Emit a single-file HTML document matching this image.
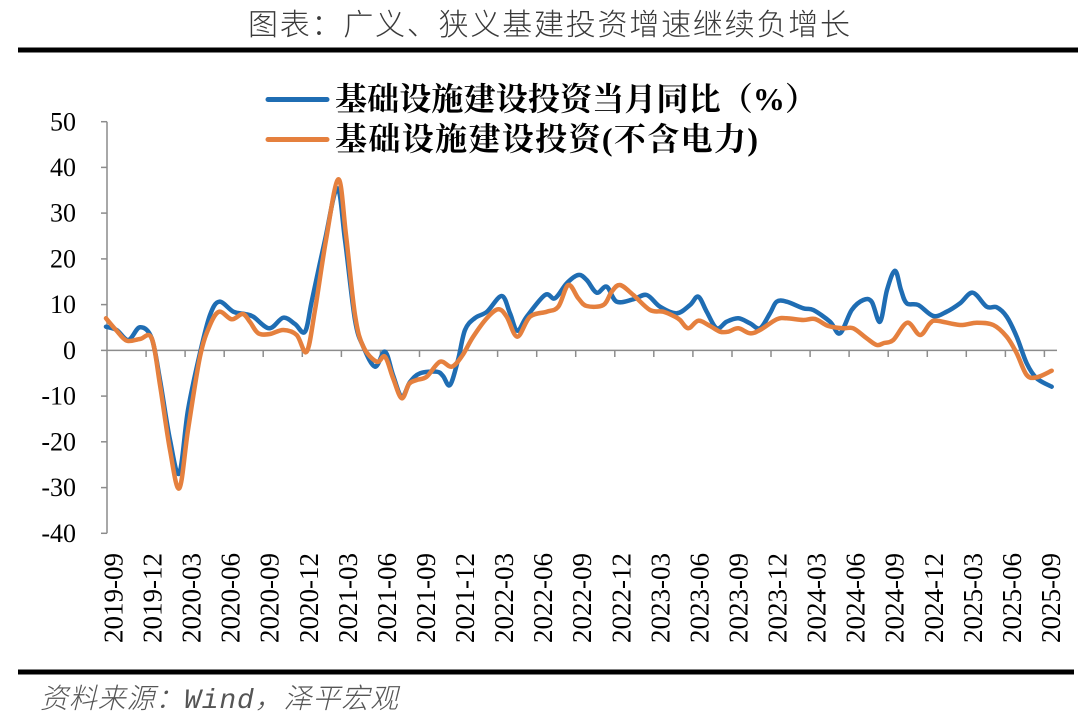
<!DOCTYPE html>
<html>
<head>
<meta charset="utf-8">
<style>
  html,body{margin:0;padding:0;background:#fff;}
  body{width:1080px;height:722px;overflow:hidden;}
  svg{display:block;}
</style>
</head>
<body>
<svg width="1080" height="722" viewBox="0 0 1080 722" xmlns="http://www.w3.org/2000/svg">
  <rect width="1080" height="722" fill="#fff"/>

  <!-- Title -->
  <text x="248" y="35" font-family="'Liberation Sans','Noto Sans CJK SC',sans-serif" font-weight="300" font-size="30" fill="#3a3a3a" textLength="602" lengthAdjust="spacing">图表：广义、狭义基建投资增速继续负增长</text>
  <rect x="18" y="47.5" width="1060" height="5" fill="#000"/>

  <!-- Legend -->
  <line x1="268" y1="99.5" x2="327" y2="99.5" stroke="#1f6db3" stroke-width="5" stroke-linecap="round"/>
  <text x="335" y="110" font-family="'Liberation Serif','Noto Serif CJK SC',serif" font-weight="700" font-size="32" fill="#000" textLength="482" lengthAdjust="spacing">基础设施建设投资当月同比（%）</text>
  <line x1="268" y1="139.5" x2="327" y2="139.5" stroke="#e5803e" stroke-width="5" stroke-linecap="round"/>
  <text x="335" y="150" font-family="'Liberation Serif','Noto Serif CJK SC',serif" font-weight="700" font-size="32" fill="#000" textLength="423" lengthAdjust="spacing">基础设施建设投资(不含电力)</text>

  <!-- Y axis -->
  <g stroke="#8c8c8c" stroke-width="1.5" fill="none">
    <line x1="107" y1="121.7" x2="107" y2="533.3"/>
    <line x1="101" y1="121.7" x2="107" y2="121.7"/>
    <line x1="101" y1="167.4" x2="107" y2="167.4"/>
    <line x1="101" y1="213.1" x2="107" y2="213.1"/>
    <line x1="101" y1="258.9" x2="107" y2="258.9"/>
    <line x1="101" y1="304.6" x2="107" y2="304.6"/>
    <line x1="101" y1="350.4" x2="107" y2="350.4"/>
    <line x1="101" y1="396.1" x2="107" y2="396.1"/>
    <line x1="101" y1="441.8" x2="107" y2="441.8"/>
    <line x1="101" y1="487.6" x2="107" y2="487.6"/>
    <line x1="101" y1="533.3" x2="107" y2="533.3"/>
  </g>
  <g font-family="'Liberation Serif',serif" font-size="26" fill="#000" text-anchor="end">
    <text x="76" y="130.3">50</text>
    <text x="76" y="176">40</text>
    <text x="76" y="221.7">30</text>
    <text x="76" y="267.5">20</text>
    <text x="76" y="313.2">10</text>
    <text x="76" y="359">0</text>
    <text x="76" y="404.7">-10</text>
    <text x="76" y="450.4">-20</text>
    <text x="76" y="496.2">-30</text>
    <text x="76" y="541.9">-40</text>
  </g>

  <!-- X axis -->
  <g stroke="#8c8c8c" stroke-width="1.5" fill="none">
    <line x1="107" y1="350.4" x2="1057" y2="350.4"/>
    <line x1="146.1" y1="350.4" x2="146.1" y2="357"/>
    <line x1="185.1" y1="350.4" x2="185.1" y2="357"/>
    <line x1="224.2" y1="350.4" x2="224.2" y2="357"/>
    <line x1="263.2" y1="350.4" x2="263.2" y2="357"/>
    <line x1="302.3" y1="350.4" x2="302.3" y2="357"/>
    <line x1="341.4" y1="350.4" x2="341.4" y2="357"/>
    <line x1="380.4" y1="350.4" x2="380.4" y2="357"/>
    <line x1="419.5" y1="350.4" x2="419.5" y2="357"/>
    <line x1="458.5" y1="350.4" x2="458.5" y2="357"/>
    <line x1="497.6" y1="350.4" x2="497.6" y2="357"/>
    <line x1="536.7" y1="350.4" x2="536.7" y2="357"/>
    <line x1="575.7" y1="350.4" x2="575.7" y2="357"/>
    <line x1="614.8" y1="350.4" x2="614.8" y2="357"/>
    <line x1="653.8" y1="350.4" x2="653.8" y2="357"/>
    <line x1="692.9" y1="350.4" x2="692.9" y2="357"/>
    <line x1="732.0" y1="350.4" x2="732.0" y2="357"/>
    <line x1="771.0" y1="350.4" x2="771.0" y2="357"/>
    <line x1="810.1" y1="350.4" x2="810.1" y2="357"/>
    <line x1="849.1" y1="350.4" x2="849.1" y2="357"/>
    <line x1="888.2" y1="350.4" x2="888.2" y2="357"/>
    <line x1="927.3" y1="350.4" x2="927.3" y2="357"/>
    <line x1="966.3" y1="350.4" x2="966.3" y2="357"/>
    <line x1="1005.4" y1="350.4" x2="1005.4" y2="357"/>
    <line x1="1044.4" y1="350.4" x2="1044.4" y2="357"/>
  </g>
  <g font-family="'Liberation Serif',serif" font-size="27" fill="#000" text-anchor="end" dominant-baseline="central">
    <text transform="translate(113.5,553) rotate(-90)">2019-09</text>
    <text transform="translate(152.6,553) rotate(-90)">2019-12</text>
    <text transform="translate(191.6,553) rotate(-90)">2020-03</text>
    <text transform="translate(230.7,553) rotate(-90)">2020-06</text>
    <text transform="translate(269.7,553) rotate(-90)">2020-09</text>
    <text transform="translate(308.8,553) rotate(-90)">2020-12</text>
    <text transform="translate(347.9,553) rotate(-90)">2021-03</text>
    <text transform="translate(386.9,553) rotate(-90)">2021-06</text>
    <text transform="translate(426.0,553) rotate(-90)">2021-09</text>
    <text transform="translate(465.0,553) rotate(-90)">2021-12</text>
    <text transform="translate(504.1,553) rotate(-90)">2022-03</text>
    <text transform="translate(543.2,553) rotate(-90)">2022-06</text>
    <text transform="translate(582.2,553) rotate(-90)">2022-09</text>
    <text transform="translate(621.3,553) rotate(-90)">2022-12</text>
    <text transform="translate(660.3,553) rotate(-90)">2023-03</text>
    <text transform="translate(699.4,553) rotate(-90)">2023-06</text>
    <text transform="translate(738.5,553) rotate(-90)">2023-09</text>
    <text transform="translate(777.5,553) rotate(-90)">2023-12</text>
    <text transform="translate(816.6,553) rotate(-90)">2024-03</text>
    <text transform="translate(855.6,553) rotate(-90)">2024-06</text>
    <text transform="translate(894.7,553) rotate(-90)">2024-09</text>
    <text transform="translate(933.8,553) rotate(-90)">2024-12</text>
    <text transform="translate(972.8,553) rotate(-90)">2025-03</text>
    <text transform="translate(1011.9,553) rotate(-90)">2025-06</text>
    <text transform="translate(1050.9,553) rotate(-90)">2025-09</text>
  </g>

  <!-- Series -->
  <polyline class="s" fill="none" stroke="#1f6db3" stroke-width="4.5" stroke-linejoin="round" stroke-linecap="round"
    points="106,326.7 116.7,330 128.3,340 140,327.3 151.7,338.3 160,380 170,440 179.3,473.3 188,410 200,353 210,315 219.3,301.7 233.3,311.7 245,314 253.3,316.7 269.3,328.3 283.3,317.7 295,324 305,331.7 312,300 325,240 337.3,188.3 345,240 355,320 363.3,346.7 375,366.7 385,351.7 393,375 401.7,396.7 410,382 420,373.3 436.7,371.7 443,376 450,385 458,360 465,330 475,318 487,311.7 501.7,296 510,313.3 517.3,330.7 526.7,316.7 545,295 555,298.3 566.7,283.3 578.3,275 586.7,280 596.7,292.7 606.7,286.7 616.7,301.7 633.3,299.3 646.7,295 660,306.7 676.7,313.3 690,305 698.3,296.7 706.7,311.7 716.7,328.3 726.7,321.7 738.3,318.3 750,323.3 760,328.3 770,313.3 776.7,301.7 786.7,301.7 803.3,308.3 813.3,310 830,321.7 840,333.3 851.7,310 863.3,300 871.7,301.7 880,321.7 887,290 895,270.7 901,290 906.7,303.3 918.3,305 933.3,316 946.7,311.7 960,303.3 972.7,292.7 986.7,306.7 996.7,307.3 1006.7,316.7 1016.7,336.7 1026.7,363.3 1036.7,378.3 1051.7,386.7"/>
  <polyline class="s" fill="none" stroke="#e5803e" stroke-width="4.5" stroke-linejoin="round" stroke-linecap="round"
    points="106,318.3 116,330 126.7,340.7 140,339 151.7,338.3 160,385 170,450 179.3,488.3 188,430 200,356.7 210,325 219.3,311.7 231.7,319.3 242.7,314 250,322 258.3,333.3 270,334 283.3,330 296.7,335 306.7,351.7 315,310 326,240 338.3,179.3 346,235 355,315 363.3,346.7 376.7,361.7 385,356.7 393,378 401.7,398.3 409,384 416.7,380 426.7,376.7 440,361.7 451.7,366.7 462,356 473,337 487,318 498.3,309.3 506.7,316.7 517.3,336.7 530,316.7 546.7,311.7 558.3,306.7 568.3,285 578.3,298.3 586.7,306 603.3,305 611.7,291.7 620,285 633.3,295 650,310 663.3,311.7 675,316.7 680,320 688.3,328.3 698.3,320.7 710,326 720,331.7 728.3,331.7 738.3,328.3 750,333.3 760,330 776.7,319.3 786.7,318.3 803.3,320 815,319 828.3,326 843.3,328.3 853.3,328.3 866.7,338.3 876.7,345 884,343 893.3,340 907.3,322.7 920,335 930,323.3 936.7,320.7 960,325 976.7,322.7 993.3,325 1006.7,336.7 1016.7,353.3 1026.7,375 1036.7,377.3 1051.7,370.7"/>

  <!-- Bottom rule and source -->
  <rect x="18" y="669.5" width="1056" height="5" fill="#000"/>
  <text x="40" y="708" font-family="'Liberation Sans','Noto Sans CJK SC',sans-serif" font-weight="300" font-style="italic" font-size="28" fill="#555" textLength="358" lengthAdjust="spacing">资料来源：<tspan font-family="'Liberation Mono',monospace" font-weight="400">Wind</tspan>，泽平宏观</text>
</svg>
<script>
(function(){
  try{
    var NS='http://www.w3.org/2000/svg';
    var pls=document.querySelectorAll('polyline.s');
    for(var k=0;k<pls.length;k++){
      var pl=pls[k];
      var pts=pl.getAttribute('points').trim().split(/\s+/).map(function(p){return p.split(',').map(Number);});
      var d='M'+pts[0][0]+','+pts[0][1];
      for(var i=0;i<pts.length-1;i++){
        var p0=pts[i-1]||pts[i],p1=pts[i],p2=pts[i+1],p3=pts[i+2]||pts[i+1];
        var t=1/6;
        var c1x=p1[0]+(p2[0]-p0[0])*t,c1y=p1[1]+(p2[1]-p0[1])*t;
        var c2x=p2[0]-(p3[0]-p1[0])*t,c2y=p2[1]-(p3[1]-p1[1])*t;
        d+=' C'+c1x.toFixed(2)+','+c1y.toFixed(2)+' '+c2x.toFixed(2)+','+c2y.toFixed(2)+' '+p2[0]+','+p2[1];
      }
      var path=document.createElementNS(NS,'path');
      path.setAttribute('d',d);
      ['fill','stroke','stroke-width','stroke-linejoin','stroke-linecap'].forEach(function(a){path.setAttribute(a,pl.getAttribute(a));});
      pl.parentNode.replaceChild(path,pl);
    }
  }catch(e){}
})();
</script>
</body>
</html>
